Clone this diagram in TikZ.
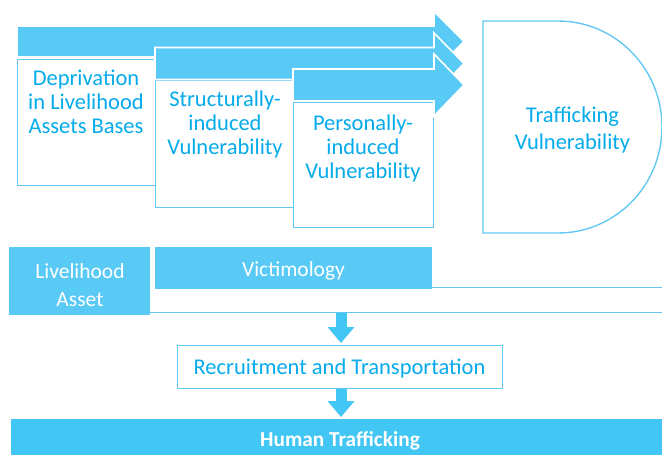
\documentclass[tikz,border=0pt]{standalone}
\usepackage{fontspec}
\setmainfont{Carlito}
\usetikzlibrary{arrows.meta}
\definecolor{fillblue}{HTML}{58CAF5}
\definecolor{txtblue}{HTML}{05ABEB}
\definecolor{lineblue}{HTML}{62C9F2}
\definecolor{htblue}{HTML}{42C6F4}
\begin{document}
\begin{tikzpicture}[x=1pt,y=-1pt,
  boxst/.style={draw=lineblue, line width=1.4pt, fill=white, rectangle, inner sep=0pt, anchor=north west},
  txt/.style={text=txtblue, align=center, inner sep=0pt, font=\fontsize{22.5}{24}\selectfont},
  bigarrow/.style={fill=fillblue, draw=white, line width=1.6pt, line join=miter},
  solidbox/.style={fill=fillblue, draw=none, rectangle, inner sep=0pt, anchor=north west},
  wtxt/.style={text=white, align=center, inner sep=0pt, font=\fontsize{21.5}{28}\selectfont},
  thinline/.style={draw=lineblue, line width=1.3pt},
  dnarrow/.style={draw=htblue, line width=11pt, -{Triangle[width=26pt,length=16pt]}}
]
\useasboundingbox (0,0) rectangle (662,455);
% boxes
\node[boxst, minimum width=138pt, minimum height=126pt] (b1) at (17,59) {};
\node[boxst, minimum width=138pt, minimum height=127pt] (b2) at (155,80) {};
\node[boxst, minimum width=140pt, minimum height=125pt] (b3) at (293,102) {};
% arrows
\path[bigarrow] (17,26) -- (434,26) -- (434,11.5) -- (464,41.5) -- (434,71.5) -- (434,57) -- (17,57) -- cycle;
\path[bigarrow] (155,47.5) -- (434,47.5) -- (434,33) -- (464,63.5) -- (434,94) -- (434,79.5) -- (155,79.5) -- cycle;
\path[bigarrow] (293,69) -- (434,69) -- (434,54) -- (464,85) -- (434,116) -- (434,101) -- (293,101) -- cycle;
% texts in boxes
\node[txt] (t1) at (86,102) {Deprivation\\in Livelihood\\Assets Bases};
\node[txt] (t2) at (225,125) {Structurally-\\induced\\Vulnerability};
\node[txt] (t3) at (363,148) {Personally-\\induced\\Vulnerability};
% trafficking vulnerability D shape
\draw[draw=lineblue, line width=1.4pt] (558,233) -- (483,233) -- (483,21) -- (558,21) arc[start angle=-90, end angle=90, x radius=104, y radius=106];
\node[txt, font=\fontsize{22.5}{28}\selectfont] (tv) at (572.5,130) {Trafficking\\Vulnerability};
% lower part
\node[solidbox, minimum width=141pt, minimum height=68pt] (la) at (9,247) {};
\node[wtxt] (lat) at (80,285) {Livelihood\\Asset};
\node[solidbox, minimum width=277pt, minimum height=42pt] (vic) at (155,247) {};
\node[wtxt] (vict) at (293.5,271) {Victimology};
\draw[thinline] ([yshift=2pt]vic.south east) -- ++(240,0);
\draw[thinline] ([yshift=3pt]la.south east) -- ++(520,0);
\coordinate (l2) at (341,313);
\node[draw=lineblue, line width=1.3pt, rectangle, minimum width=325pt, minimum height=43pt, inner sep=0pt, anchor=north west] (rec) at (177,345) {};
\node[txt] (rect) at (339.5,368) {Recruitment and Transportation};
\node[fill=htblue, rectangle, inner sep=0pt, minimum width=659pt, minimum height=40pt, anchor=north west] (ht) at (11,419) {};
\node[text=white, inner sep=0pt, font=\bfseries\fontsize{21.3}{24}\selectfont] (htt) at (340,441) {Human Trafficking};
\draw[dnarrow, shorten >=2pt] (l2) -- (l2 |- rec.north);
\draw[dnarrow, shorten >=2pt] (rec.south -| l2) -- (ht.north -| l2);
\end{tikzpicture}
\end{document}
